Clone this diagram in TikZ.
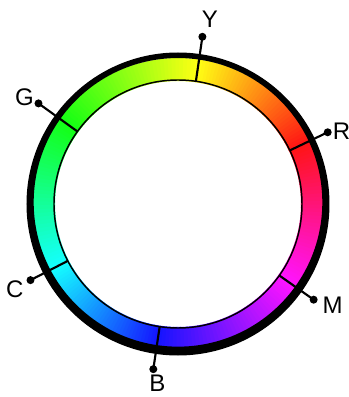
\documentclass[tikz,border=0pt]{standalone}
\usepackage{fontspec}
\setmainfont{Liberation Sans}
\usepackage{tikz}
\usetikzlibrary{calc}

\tikzset{
  innerline/.style={line width=1.1pt},
  tickline/.style={line width=1.6pt},
  huelabel/.style={font=\fontsize{18}{20}\selectfont,inner sep=0pt}
}

\begin{document}
\begin{tikzpicture}[x=0.75pt,y=0.75pt]
  \useasboundingbox (-178,-193) rectangle (171,204);
  % hue band, piecewise between the marks
  \foreach \a/\b/\ha in {81.7/144.2/60,144.2/207.3/120,207.3/261.5/180,261.5/324.8/240,324.8/385.6/300,25.6/81.7/0}{
    \foreach \k in {0,...,39}{
      \pgfmathsetmacro{\s}{\a+(\b-\a)*\k/40}
      \pgfmathsetmacro{\e}{\a+(\b-\a)*(\k+1)/40+0.3}
      \pgfmathsetmacro{\h}{mod(\ha+60*(\k+0.5)/40,360)}
      \definecolor{wedge}{Hsb}{\h,0.92,1}
      \fill[wedge] (\s:123) arc (\s:\e:123) -- (\e:146) arc (\e:\s:146) -- cycle;
    }
  }
  % black rim, a bit heavier at the bottom
  \fill[even odd rule] (0,0) circle (151.5) (0,1.65) circle (144.3);
  \draw[innerline] (0,0) circle (124);
  % marks
  \foreach \n/\ang/\r/\lang/\lr in {Y/81.7/169/80.2/188,R/25.6/166/24/179,M/324.8/166/326.7/185,B/261.5/167/263.4/180.5,C/207.3/166/207.5/184,G/144.2/172/145.2/187}{
    \coordinate (in\n) at (\ang:124);
    \coordinate (dot\n) at (\ang:\r);
    \draw[tickline] (in\n) -- (dot\n);
    \fill (dot\n) circle (3pt);
    \node[huelabel] (lab\n) at (\lang:\lr) {\n};
  }
\end{tikzpicture}
\end{document}
